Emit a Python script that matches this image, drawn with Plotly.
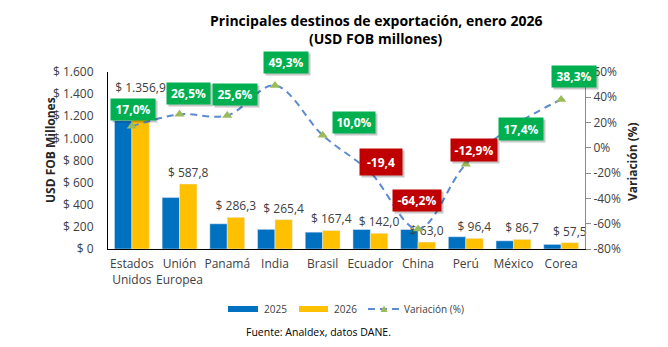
import plotly.graph_objects as go

# ---- data ----
categories = ["Estados<br>Unidos", "Unión<br>Europea", "Panamá", "India", "Brasil",
              "Ecuador", "China", "Perú", "México", "Corea"]
exports_2025 = [1159.7, 464.7, 227.9, 177.8, 152.2, 176.2, 176.0, 110.7, 73.9, 41.6]
exports_2026 = [1356.9, 587.8, 286.3, 265.4, 167.4, 142.0, 63.0, 96.4, 86.7, 57.5]
variation = [17.0, 26.5, 25.6, 49.3, 10.0, -19.4, -64.2, -12.9, 17.4, 38.3]
variation_labels = ["17,0%", "26,5%", "25,6%", "49,3%", "10,0%", "-19,4",
                    "-64,2%", "-12,9%", "17,4%", "38,3%"]
left_ticks = [0, 200, 400, 600, 800, 1000, 1200, 1400, 1600]
left_tick_text = ["$ 0", "$ 200", "$ 400", "$ 600", "$ 800", "$ 1.000",
                  "$ 1.200", "$ 1.400", "$ 1.600"]
right_ticks = [-80, -60, -40, -20, 0, 20, 40, 60]
right_tick_text = ["-80%", "-60%", "-40%", "-20%", "0%", "20%", "40%", "60%"]

# ---- styling ----
W, H = 668, 347
PL, PR, PT, PB = 108, 585, 72, 249   # plot area in pixels
BLUE = "#0070C0"
GOLD = "#FFC000"
LINE = "#5B8BD0"
TRI = "#9BBB59"
GREEN = "#00B050"
RED = "#C00000"
TXT = "#404040"
FONT = "Open Sans"

# label box offsets (px) relative to each marker, and box sizes
label_shift = [(1, 17), (9, 21), (8, 21), (11, 23), (31, 13),
               (11, 10), (-1, 29), (8, 14), (8, -3), (13, 23)]
label_size = [(42, 19), (41, 19), (42, 19), (42, 19), (40, 19),
              (40, 24), (46, 19), (44, 20), (42, 20), (42, 19)]


def px(x):
    return (x - PL) / (PR - PL)


def py(y):
    return (PB - y) / (PB - PT)


fig = go.Figure()

fig.add_trace(go.Bar(
    x=categories, y=exports_2025, name="2025", marker_color=BLUE,
    showlegend=False,
))
fig.add_trace(go.Bar(
    x=categories, y=exports_2026, name="2026", marker_color=GOLD,
    texttemplate="$ %{y:,.1f}", textposition="outside", constraintext="none",
    cliponaxis=False, textfont=dict(family=FONT, size=12, color=TXT),
    showlegend=False,
))
fig.add_trace(go.Scatter(
    x=categories, y=variation, name="Variación (%)", yaxis="y2",
    mode="lines+markers",
    line=dict(color=LINE, width=2, dash="7px,5px", shape="spline", smoothing=1.0),
    marker=dict(symbol="triangle-up", size=9, color=TRI),
    cliponaxis=False, showlegend=False,
))

annotations = []
# variation labels with drop shadow
for cat, v, txt, (dx, dy), (bw, bh) in zip(categories, variation, variation_labels,
                                            label_shift, label_size):
    color = GREEN if v >= 0 else RED
    annotations.append(dict(
        x=cat, y=v, xref="x", yref="y2", text=" ", showarrow=False,
        xshift=dx + 2, yshift=dy - 2, width=bw, height=bh,
        bgcolor="rgba(0,0,0,0.22)",
    ))
    annotations.append(dict(
        x=cat, y=v, xref="x", yref="y2", text=f"<b>{txt}</b>", showarrow=False,
        xshift=dx, yshift=dy, width=bw, height=bh, bgcolor=color,
        font=dict(family=FONT, size=12, color="white"),
    ))

# title
annotations.append(dict(
    x=px(376), y=py(20), xref="paper", yref="paper", xanchor="center",
    yanchor="middle", showarrow=False,
    text="<b>Principales destinos de exportación, enero 2026</b>",
    font=dict(family=FONT, size=14, color="black"),
))
annotations.append(dict(
    x=px(376), y=py(38), xref="paper", yref="paper", xanchor="center",
    yanchor="middle", showarrow=False, text="<b>(USD FOB millones)</b>",
    font=dict(family=FONT, size=14, color="black"),
))

# axis titles
annotations.append(dict(
    x=px(50), y=py(150), xref="paper", yref="paper", textangle=-90,
    xanchor="center", yanchor="middle",
    showarrow=False, text="<b>USD FOB Millones</b>",
    font=dict(family=FONT, size=12, color="#262626"),
))
annotations.append(dict(
    x=px(632), y=py(162), xref="paper", yref="paper", textangle=-90,
    xanchor="center", yanchor="middle",
    showarrow=False, text="<b>Variación (%)</b>",
    font=dict(family=FONT, size=12, color="#262626"),
))

# legend entries
legend_y = 309
shapes = [
    dict(type="rect", xref="paper", yref="paper", x0=px(228), x1=px(258),
         y0=py(306), y1=py(312), fillcolor=BLUE, line_width=0),
    dict(type="rect", xref="paper", yref="paper", x0=px(299), x1=px(328),
         y0=py(306), y1=py(312), fillcolor=GOLD, line_width=0),
    dict(type="line", xref="paper", yref="paper", x0=px(368), x1=px(399),
         y0=py(legend_y), y1=py(legend_y),
         line=dict(color=LINE, width=2, dash="7px,5px")),
]
tri_path = "M {} {} L {} {} L {} {} Z".format(
    px(380.5), py(312), px(387.5), py(312), px(384), py(305.5))
shapes.append(dict(type="path", xref="paper", yref="paper", path=tri_path,
                   fillcolor=TRI, line_width=0))
for lx, ltxt in [(262, "2025"), (332, "2026"), (402, "Variación (%)")]:
    annotations.append(dict(
        x=px(lx), y=py(legend_y), xref="paper", yref="paper", xanchor="left",
        yanchor="middle", showarrow=False, text=ltxt,
        font=dict(family=FONT, size=10, color=TXT),
    ))

# source note
annotations.append(dict(
    x=px(318), y=py(332), xref="paper", yref="paper", xanchor="center",
    yanchor="middle", showarrow=False, text="Fuente: Analdex, datos DANE.",
    font=dict(family=FONT, size=10.5, color="black"),
))

fig.update_layout(
    width=W, height=H,
    margin=dict(l=PL, r=W - PR, t=PT, b=H - PB),
    paper_bgcolor="white", plot_bgcolor="white",
    separators=",.",
    barmode="group", bargap=0.27, bargroupgap=0,
    showlegend=False,
    font=dict(family=FONT, size=12, color=TXT),
    xaxis=dict(
        range=[-0.5, 9.5], showline=True, linecolor="black", linewidth=1,
        ticks="", showgrid=False, tickangle=0, ticklabelstandoff=4,
        tickfont=dict(family=FONT, size=12, color=TXT),
    ),
    yaxis=dict(
        range=[0, 1600], tickmode="array", tickvals=left_ticks,
        ticktext=left_tick_text,
        showline=True, linecolor="black", linewidth=1, ticks="",
        showgrid=False, zeroline=False, ticklabelstandoff=11,
        tickfont=dict(family=FONT, size=12, color=TXT),
    ),
    yaxis2=dict(
        range=[-80, 60], tickmode="array", tickvals=right_ticks,
        ticktext=right_tick_text, overlaying="y",
        side="right", showline=True, linecolor="#8C8C8C", linewidth=1,
        ticks="outside", ticklen=5, tickcolor="#8C8C8C", showgrid=False,
        zeroline=False, tickfont=dict(family=FONT, size=12, color=TXT),
    ),
    annotations=annotations,
    shapes=shapes,
)

fig.write_html("out.html")
